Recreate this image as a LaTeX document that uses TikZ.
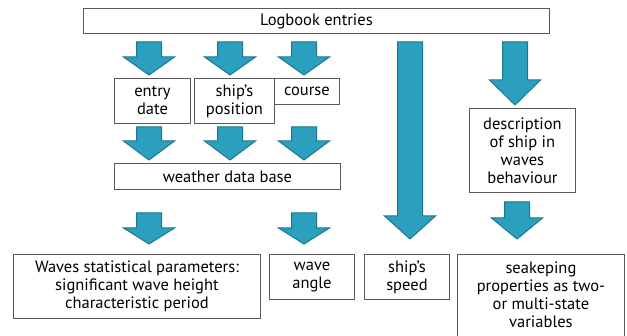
\documentclass[tikz,border=0pt]{standalone}
\usepackage{fontspec}
\setmainfont{PT Sans}
\usetikzlibrary{calc,positioning}
\definecolor{flechaazul}{RGB}{42,160,190}
\definecolor{flechaborde}{RGB}{28,118,143}
\tikzset{
  caja/.style={draw=black!65,fill=white,line width=0.9pt,align=center,inner sep=2pt,anchor=north west,font=\fontsize{16.5}{18}\selectfont},
  flecha/.style={fill=flechaazul,draw=flechaborde,line width=1pt,line join=miter}
}
% flecha de bloque: x, nodo origen, nodo destino, hueco arriba, hueco abajo, largo de la punta
\newcommand{\flecha}[6]{%
  \draw[flecha] let \p1=(#2.south), \p2=(#3.north) in
    ({#1pt-12.5pt},{\y1-#4pt}) -- ({#1pt+12.5pt},{\y1-#4pt})
    -- ({#1pt+12.5pt},{\y2+#5pt+#6pt}) -- ({#1pt+25.5pt},{\y2+#5pt+#6pt})
    -- ({#1pt},{\y2+#5pt}) -- ({#1pt-25.5pt},{\y2+#5pt+#6pt})
    -- ({#1pt-12.5pt},{\y2+#5pt+#6pt}) -- cycle;}

\begin{document}
\begin{tikzpicture}[x=1pt,y=-1pt]
\useasboundingbox (0,0) rectangle (627,336);
% cajas
\node[caja,minimum width=466,minimum height=25] (log) at (83,8) {Logbook entries};
\node[caja,minimum width=76,minimum height=45] (entry) at (114,78) {entry\\date};
\node[caja,minimum width=80,minimum height=45] (pos) at (194,78) {ship’s\\position};
\node[caja,minimum width=65,minimum height=26] (course) at (274,78) {course};
\node[caja,minimum width=106,minimum height=84] (desc) at (469,108) {description\\of ship in\\waves\\behaviour};
\node[caja,minimum width=226,minimum height=26] (weather) at (114,163) {weather data base};
\node[caja,minimum width=247,minimum height=64] (waves) at (13,254) {Waves statistical parameters:\\significant wave height\\characteristic period};
\node[caja,minimum width=85,minimum height=45] (angle) at (269,254) {wave\\angle};
\node[caja,minimum width=85,minimum height=45] (speed) at (364,254) {ship’s\\speed};
% la ultima caja sigue por debajo del borde
\node[caja,draw=none,minimum width=167,minimum height=80] (seakeep) at (457,254) {seakeping\\properties as two-\\or multi-state\\variables};
\draw[black!65,line width=0.9pt] (seakeep.north west) rectangle (624,345);
% flechas
\flecha{149}{log}{entry}{8}{3}{18}
\flecha{230}{log}{pos}{8}{3}{18}
\flecha{304}{log}{course}{8}{3}{18}
\flecha{410}{log}{speed}{8}{15}{23}
\flecha{515}{log}{desc}{8}{3}{25}
\flecha{149}{entry}{weather}{3}{3}{19}
\flecha{230}{pos}{weather}{3}{3}{19}
\flecha{304}{course}{weather}{22}{3}{19}
\flecha{149}{weather}{waves}{23}{10}{16}
\flecha{304}{weather}{angle}{23}{10}{16}
\flecha{517}{desc}{seakeep}{9}{15}{21}
\end{tikzpicture}
\end{document}
